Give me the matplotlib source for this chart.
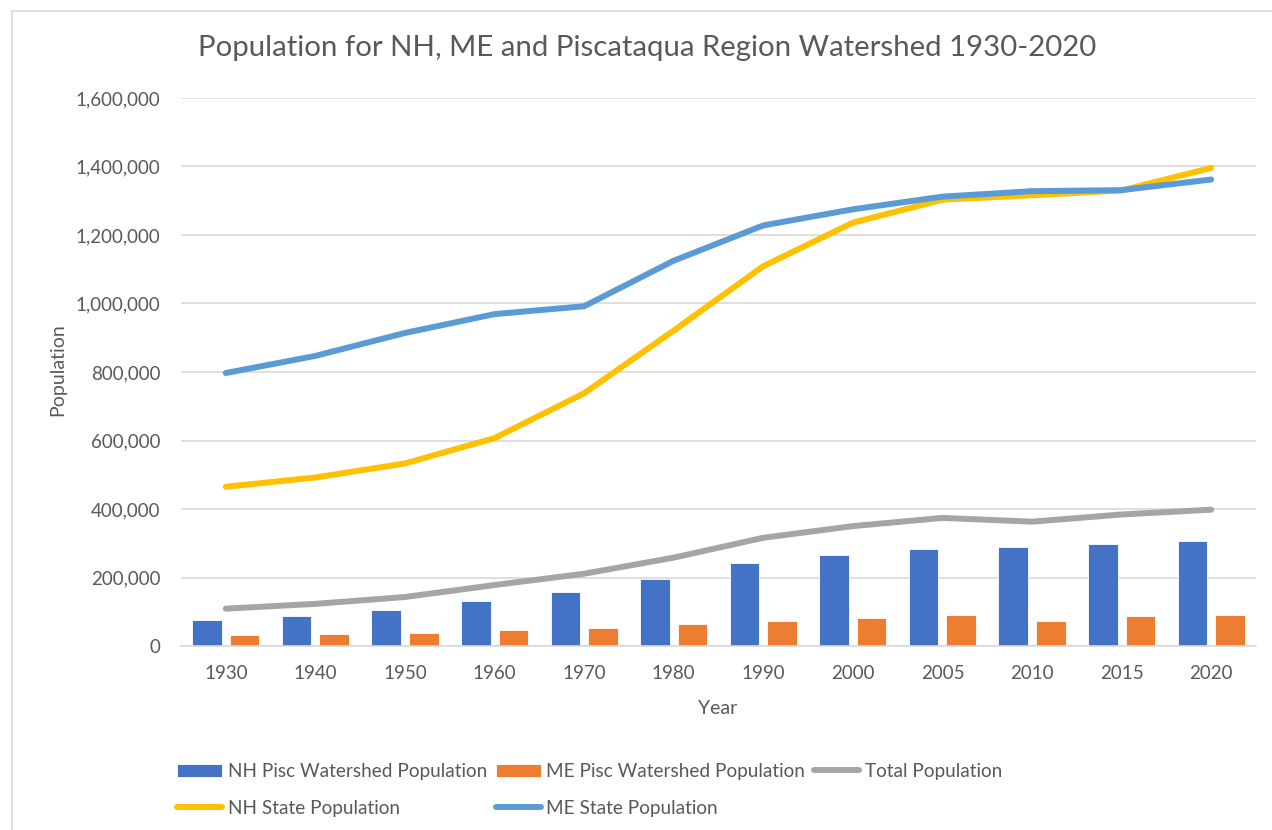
import matplotlib
matplotlib.use("Agg")
import matplotlib.pyplot as plt
from matplotlib.lines import Line2D
from matplotlib.ticker import FuncFormatter
import numpy as np

# Census years and population series
years = ["1930", "1940", "1950", "1960", "1970", "1980",
         "1990", "2000", "2005", "2010", "2015", "2020"]
nh_watershed = [77000, 87000, 104000, 131000, 158000, 195000,
                243000, 267000, 284000, 290000, 297000, 308000]
me_watershed = [32000, 36000, 39000, 47000, 53000, 63000,
                73000, 83000, 90000, 73000, 87000, 90000]
total_population = [a + b for a, b in zip(nh_watershed, me_watershed)]
nh_state = [465000, 492000, 533000, 607000, 738000, 921000,
            1109000, 1236000, 1303000, 1316000, 1330000, 1396000]
me_state = [797000, 847000, 914000, 969000, 992000, 1125000,
            1228000, 1275000, 1312000, 1328000, 1331000, 1362000]

plt.rcParams["font.family"] = ["Lato", "DejaVu Sans"]
TEXT = "#595959"
GRID = "#D9D9D9"

fig = plt.figure(figsize=(12.72, 8.30), dpi=100)
ax = fig.add_axes([181 / 1272, 1 - 646 / 830, (1256 - 181) / 1272, (646 - 98) / 830])

x = np.arange(len(years))
bw = 0.33
off = 0.21
bars_nh = ax.bar(x - off, nh_watershed, width=bw, color="#4472C4",
                 edgecolor="white", linewidth=0.6, zorder=2,
                 label="NH Pisc Watershed Population")
bars_me = ax.bar(x + off, me_watershed, width=bw, color="#ED7D31",
                 edgecolor="white", linewidth=0.6, zorder=2,
                 label="ME Pisc Watershed Population")

lw = 4.3
l_total, = ax.plot(x, total_population, color="#A5A5A5", lw=lw,
                   solid_capstyle="round", solid_joinstyle="round", zorder=3,
                   label="Total Population")
l_nh, = ax.plot(x, nh_state, color="#FFC000", lw=lw,
                solid_capstyle="round", solid_joinstyle="round", zorder=4,
                label="NH State Population")
l_me, = ax.plot(x, me_state, color="#5B9BD5", lw=lw,
                solid_capstyle="round", solid_joinstyle="round", zorder=5,
                label="ME State Population")

ax.set_xlim(-0.5, len(years) - 0.5)
ax.set_ylim(0, 1600000)
ax.set_yticks(np.arange(0, 1600001, 200000))
ax.yaxis.set_major_formatter(FuncFormatter(lambda v, p: f"{int(v):,}"))
ax.set_xticks(x)
ax.set_xticklabels(years)

for s in ["top", "right", "left"]:
    ax.spines[s].set_visible(False)
ax.spines["bottom"].set_color(GRID)
ax.spines["bottom"].set_linewidth(1.2)
ax.grid(axis="y", color=GRID, linewidth=1.2, zorder=0)
ax.set_axisbelow(True)
ax.tick_params(axis="both", length=0, labelsize=13.5, colors=TEXT)
ax.tick_params(axis="y", pad=15)
ax.tick_params(axis="x", pad=14)

fig.text(718 / 1272, 1 - 708 / 830, "Year", ha="center", va="center",
         fontsize=14, color=TEXT)
fig.text(58 / 1272, 1 - 370 / 830, "Population", ha="center", va="center",
         rotation=90, fontsize=14, color=TEXT)
fig.text(647 / 1272, 1 - 48 / 830,
         "Population for NH, ME and Piscataqua Region Watershed 1930-2020",
         ha="center", va="center", fontsize=21.2, color=TEXT)

# chart frame edges
fig.add_artist(Line2D([12 / 1272, 1.0], [1 - 11 / 830, 1 - 11 / 830],
                      color=GRID, lw=1.2, transform=fig.transFigure))
fig.add_artist(Line2D([12 / 1272, 12 / 1272], [0.0, 1 - 11 / 830],
                      color=GRID, lw=1.2, transform=fig.transFigure))

leg = fig.legend(handles=[bars_nh, l_nh, bars_me, l_me, l_total],
                 ncol=3, loc="upper left",
                 bbox_to_anchor=(177 / 1272, 1 - 763 / 830),
                 frameon=False, fontsize=13.7, handlelength=2.37,
                 handletextpad=0.3, columnspacing=0.45, labelspacing=1.05,
                 borderpad=0, borderaxespad=0)
for t in leg.get_texts():
    t.set_color(TEXT)

fig.savefig("out.png", dpi=100, facecolor="white")
